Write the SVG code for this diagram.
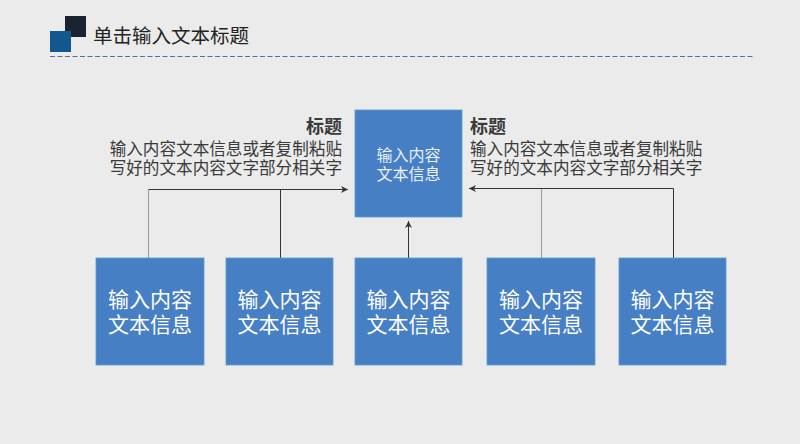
<svg xmlns="http://www.w3.org/2000/svg" width="800" height="444" viewBox="0 0 800 444">
<defs>
<style>
.bg{fill:#ebebeb}
.box{fill:#477fc4;stroke:#5a9ccc;stroke-width:0.8}
.bt{font-family:"Noto Sans CJK SC","Noto Sans",sans-serif;fill:#ffffff;text-anchor:middle}
.big{font-size:21px}
.small{font-size:16px;fill:#e8f0fa}
.h{font-family:"Noto Sans CJK SC",sans-serif;font-size:18px;font-weight:bold;fill:#3a3a3a}
.d{font-family:"Noto Sans CJK SC",sans-serif;font-size:16.6px;fill:#3a3a3a}
.ln{fill:none;stroke:#333;stroke-width:1}
.lnl{fill:none;stroke:#999;stroke-width:1}
</style>
<marker id="ah" markerWidth="8" markerHeight="8" refX="7" refY="4" orient="auto" markerUnits="userSpaceOnUse">
<path d="M0,0.5 L7,4 L0,7.5 L2,4 Z" fill="#333"/>
</marker>
</defs>
<rect class="bg" x="0" y="0" width="800" height="444"/>
<g id="header">
<rect x="65" y="16" width="21" height="21" fill="#1b2333"/>
<rect x="50" y="31" width="21" height="21" fill="#14578f"/>
<text x="93" y="43" font-family="Noto Sans CJK SC,sans-serif" font-size="19.5" fill="#222">单击输入文本标题</text>
<line x1="50" y1="56.5" x2="755" y2="56.5" stroke="#4f7596" stroke-width="1" stroke-dasharray="5,2.5"/>
</g>
<g id="connectors">
<polyline class="lnl" points="148.5,258 148.5,189.5"/>
<polyline class="ln" points="148.5,189.5 348,189.5" marker-end="url(#ah)"/>
<polyline class="ln" points="280.5,258 280.5,189.5"/>
<polyline class="lnl" points="541.5,258 541.5,188.5"/>
<polyline class="ln" points="673.5,258 673.5,188.5 469,188.5" marker-end="url(#ah)"/>
<polyline class="ln" points="408.5,258 408.5,221" marker-end="url(#ah)"/>
</g>
<g id="label-left">
<text class="h" x="342" y="133" text-anchor="end">标题</text>
<text class="d" x="342" y="155" text-anchor="end"><tspan x="342">输入内容文本信息或者复制粘贴</tspan><tspan x="342" dy="19">写好的文本内容文字部分相关字</tspan></text>
</g>
<g id="label-right">
<text class="h" x="470" y="133">标题</text>
<text class="d" x="470" y="155"><tspan x="470">输入内容文本信息或者复制粘贴</tspan><tspan x="470" dy="19">写好的文本内容文字部分相关字</tspan></text>
</g>
<g id="node-top">
<rect class="box" x="355" y="110" width="107" height="107"/>
<text class="bt small" x="408.5" y="161"><tspan x="408.5">输入内容</tspan><tspan x="408.5" dy="19">文本信息</tspan></text>
</g>
<g id="node-1">
<rect class="box" x="96" y="258" width="108" height="107"/>
<text class="bt big" x="150" y="307"><tspan x="150">输入内容</tspan><tspan x="150" dy="25">文本信息</tspan></text>
</g>
<g id="node-2">
<rect class="box" x="226" y="258" width="107" height="107"/>
<text class="bt big" x="279.5" y="307"><tspan x="279.5">输入内容</tspan><tspan x="279.5" dy="25">文本信息</tspan></text>
</g>
<g id="node-3">
<rect class="box" x="355" y="258" width="107" height="107"/>
<text class="bt big" x="408.5" y="307"><tspan x="408.5">输入内容</tspan><tspan x="408.5" dy="25">文本信息</tspan></text>
</g>
<g id="node-4">
<rect class="box" x="487" y="258" width="108" height="107"/>
<text class="bt big" x="541" y="307"><tspan x="541">输入内容</tspan><tspan x="541" dy="25">文本信息</tspan></text>
</g>
<g id="node-5">
<rect class="box" x="619" y="258" width="107" height="107"/>
<text class="bt big" x="672.5" y="307"><tspan x="672.5">输入内容</tspan><tspan x="672.5" dy="25">文本信息</tspan></text>
</g>
</svg>
